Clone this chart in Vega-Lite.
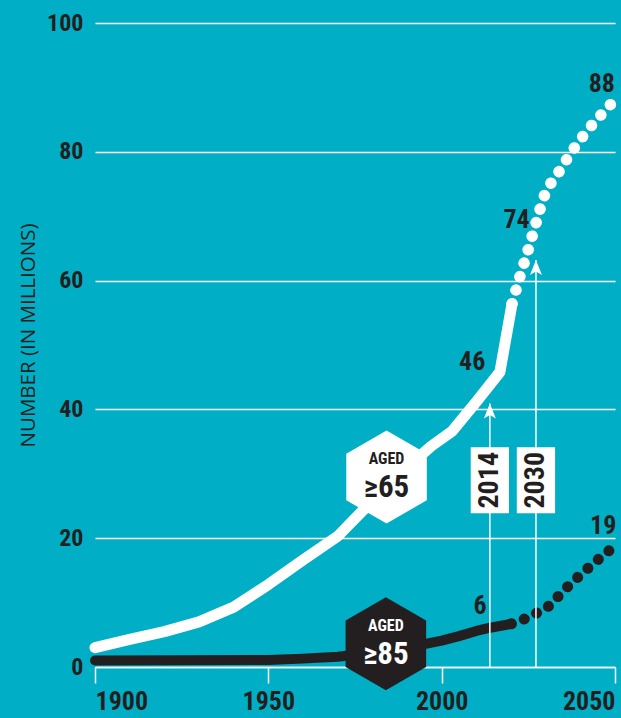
{
  "$schema": "https://vega.github.io/schema/vega-lite/v6.json",
  "width": 520,
  "height": 644,
  "autosize": "none",
  "padding": {"left": 95, "top": 23, "right": 6, "bottom": 51},
  "background": "#00AFC6",
  "config": {
    "view": {"stroke": null},
    "font": "Roboto Condensed, Noto Sans Condensed, Open Sans Condensed, Liberation Sans Narrow, Arial Narrow, Liberation Sans, sans-serif"
  },
  "datasets": {
    "population": [
      {"group": "65+", "status": "estimate", "year": 1900, "value": 3.0},
      {"group": "65+", "status": "estimate", "year": 1910, "value": 4.3},
      {"group": "65+", "status": "estimate", "year": 1920, "value": 5.5},
      {"group": "65+", "status": "estimate", "year": 1930, "value": 7.0},
      {"group": "65+", "status": "estimate", "year": 1940, "value": 9.3},
      {"group": "65+", "status": "estimate", "year": 1950, "value": 12.8},
      {"group": "65+", "status": "estimate", "year": 1960, "value": 16.6},
      {"group": "65+", "status": "estimate", "year": 1970, "value": 20.3},
      {"group": "65+", "status": "estimate", "year": 1980, "value": 25.8},
      {"group": "65+", "status": "estimate", "year": 1990, "value": 31.0},
      {"group": "65+", "status": "estimate", "year": 1997, "value": 34.3},
      {"group": "65+", "status": "estimate", "year": 2003, "value": 36.6},
      {"group": "65+", "status": "estimate", "year": 2010, "value": 41.2},
      {"group": "65+", "status": "estimate", "year": 2016.8, "value": 45.8},
      {"group": "65+", "status": "estimate", "year": 2020.3, "value": 56.4},
      {"group": "65+", "status": "projection", "year": 2020.3, "value": 56.4},
      {"group": "65+", "status": "projection", "year": 2022.5, "value": 60.5},
      {"group": "65+", "status": "projection", "year": 2024.9, "value": 64.7},
      {"group": "65+", "status": "projection", "year": 2027.2, "value": 68.9},
      {"group": "65+", "status": "projection", "year": 2029.5, "value": 73.0},
      {"group": "65+", "status": "projection", "year": 2033.6, "value": 76.7},
      {"group": "65+", "status": "projection", "year": 2038.0, "value": 80.4},
      {"group": "65+", "status": "projection", "year": 2042.8, "value": 83.8},
      {"group": "65+", "status": "projection", "year": 2048.3, "value": 87.1},
      {"group": "65+", "status": "projection", "year": 2050.3, "value": 88.3},
      {"group": "85+", "status": "estimate", "year": 1900, "value": 1.0},
      {"group": "85+", "status": "estimate", "year": 1950, "value": 1.1},
      {"group": "85+", "status": "estimate", "year": 1960, "value": 1.3},
      {"group": "85+", "status": "estimate", "year": 1970, "value": 1.6},
      {"group": "85+", "status": "estimate", "year": 1980, "value": 2.2},
      {"group": "85+", "status": "estimate", "year": 1990, "value": 3.0},
      {"group": "85+", "status": "estimate", "year": 2000, "value": 4.1},
      {"group": "85+", "status": "estimate", "year": 2005, "value": 4.8},
      {"group": "85+", "status": "estimate", "year": 2010, "value": 5.6},
      {"group": "85+", "status": "estimate", "year": 2014, "value": 6.1},
      {"group": "85+", "status": "estimate", "year": 2020.1, "value": 6.7},
      {"group": "85+", "status": "projection", "year": 2020.1, "value": 6.7},
      {"group": "85+", "status": "projection", "year": 2023.6, "value": 7.4},
      {"group": "85+", "status": "projection", "year": 2027.1, "value": 8.3},
      {"group": "85+", "status": "projection", "year": 2030.5, "value": 9.3},
      {"group": "85+", "status": "projection", "year": 2033.3, "value": 10.8},
      {"group": "85+", "status": "projection", "year": 2036.0, "value": 12.3},
      {"group": "85+", "status": "projection", "year": 2038.9, "value": 13.75},
      {"group": "85+", "status": "projection", "year": 2041.7, "value": 15.1},
      {"group": "85+", "status": "projection", "year": 2044.7, "value": 16.5},
      {"group": "85+", "status": "projection", "year": 2047.7, "value": 17.8},
      {"group": "85+", "status": "projection", "year": 2050.2, "value": 19.0}
    ],
    "markers": [
      {"year": 2013.9, "base": 0, "tip": 40.9, "boxValue": 29.0, "label": "2014"},
      {"year": 2027.2, "base": 0, "tip": 63.2, "boxValue": 29.0, "label": "2030"}
    ],
    "badges": [
      {"group": "65+", "year": 1984.1, "value": 29.5, "top": "AGED", "main": "≥65"},
      {"group": "85+", "year": 1983.9, "value": 3.6, "top": "AGED", "main": "≥85"}
    ],
    "valueLabels": [
      {"year": 2008.8, "value": 47.3, "text": "46"},
      {"year": 2021.6, "value": 69.4, "text": "74"},
      {"year": 2046.2, "value": 90.5, "text": "88"},
      {"year": 2011.1, "value": 9.4, "text": "6"},
      {"year": 2046.6, "value": 21.9, "text": "19"}
    ]
  },
  "encoding": {
    "x": {
      "field": "year", "type": "quantitative",
      "scale": {"domain": [1900, 2050], "nice": false, "zero": false},
      "axis": {
        "values": [1900, 1950, 2000, 2050],
        "format": "d",
        "title": null,
        "grid": false,
        "domainColor": "#ffffff",
        "domainWidth": 1.5,
        "tickColor": "#ffffff",
        "tickWidth": 1.5,
        "tickSize": 16,
        "labelFlush": true,
        "labelFontWeight": "bold",
        "labelFontSize": 26,
        "labelColor": "#231F20",
        "labelPadding": 5
      }
    },
    "y": {
      "field": "value", "type": "quantitative",
      "scale": {"domain": [0, 100], "nice": false},
      "axis": {
        "values": [0, 20, 40, 60, 80, 100],
        "title": "NUMBER (IN MILLIONS)",
        "titleFont": "Open Sans, sans-serif",
        "titleFontWeight": "normal",
        "titleFontSize": 20.5,
        "titleColor": "#231F20",
        "titleAngle": 270,
        "titleX": -67,
        "titleY": 312,
        "titleAlign": "center",
        "titleBaseline": "middle",
        "domain": false,
        "ticks": false,
        "grid": true,
        "gridColor": "#ffffff",
        "gridWidth": 1.5,
        "gridOpacity": 1,
        "labelFontWeight": "bold",
        "labelFontSize": 24,
        "labelColor": "#231F20",
        "labelPadding": 12
      }
    }
  },
  "layer": [
    {
      "data": {"name": "population"},
      "transform": [{"filter": "datum.group === '85+' && datum.status === 'estimate'"}],
      "mark": {"type": "line", "color": "#231F20", "strokeWidth": 10, "strokeCap": "round", "strokeJoin": "round"},
      "encoding": {}
    },
    {
      "data": {"name": "population"},
      "transform": [{"filter": "datum.group === '85+' && datum.status === 'projection'"}],
      "mark": {"type": "line", "color": "#231F20", "strokeWidth": 11, "strokeCap": "round", "strokeDash": [0.1, 13.6], "interpolate": "monotone"},
      "encoding": {}
    },
    {
      "data": {"name": "population"},
      "transform": [{"filter": "datum.group === '65+' && datum.status === 'estimate'"}],
      "mark": {"type": "line", "color": "#ffffff", "strokeWidth": 11, "strokeCap": "round", "strokeJoin": "round"},
      "encoding": {}
    },
    {
      "data": {"name": "population"},
      "transform": [{"filter": "datum.group === '65+' && datum.status === 'projection'"}],
      "mark": {"type": "line", "color": "#ffffff", "strokeWidth": 11.5, "strokeCap": "round", "strokeDash": [0.1, 14], "interpolate": "monotone"},
      "encoding": {}
    },
    {
      "data": {"name": "markers"},
      "mark": {"type": "rule", "color": "#ffffff", "strokeWidth": 1.5},
      "encoding": {
        "y": {"field": "base", "type": "quantitative"},
        "y2": {"field": "tip"}
      }
    },
    {
      "data": {"name": "markers"},
      "mark": {"type": "point", "filled": true, "color": "#ffffff", "opacity": 1, "shape": "M0,0L0.6,1.5L0,1.15L-0.6,1.5Z", "size": 400},
      "encoding": {
        "y": {"field": "tip", "type": "quantitative"}
      }
    },
    {
      "data": {"name": "markers"},
      "mark": {"type": "point", "filled": true, "color": "#ffffff", "opacity": 1, "shape": "M-0.58,-1L0.58,-1L0.58,1L-0.58,1Z", "size": 4356},
      "encoding": {
        "y": {"field": "boxValue", "type": "quantitative"}
      }
    },
    {
      "data": {"name": "markers"},
      "mark": {"type": "text", "angle": 270, "align": "center", "baseline": "middle", "fontWeight": "bold", "fontSize": 28, "color": "#231F20"},
      "encoding": {
        "y": {"field": "boxValue", "type": "quantitative"},
        "text": {"field": "label"}
      }
    },
    {
      "data": {"name": "badges"},
      "mark": {"type": "point", "filled": true, "opacity": 1, "shape": "M0,-1L0.866,-0.5L0.866,0.5L0,1L-0.866,0.5L-0.866,-0.5Z", "size": 8649},
      "encoding": {
        "color": {"field": "group", "type": "nominal", "scale": {"domain": ["65+", "85+"], "range": ["#ffffff", "#231F20"]}, "legend": null}
      }
    },
    {
      "data": {"name": "badges"},
      "mark": {"type": "text", "align": "center", "baseline": "middle", "fontWeight": "bold", "fontSize": 16, "dy": -18},
      "encoding": {
        "text": {"field": "top"},
        "color": {"condition": {"test": "datum.group === '85+'", "value": "#ffffff"}, "value": "#231F20"}
      }
    },
    {
      "data": {"name": "badges"},
      "mark": {"type": "text", "align": "center", "baseline": "middle", "fontWeight": "bold", "fontSize": 31, "dy": 11},
      "encoding": {
        "text": {"field": "main"},
        "color": {"condition": {"test": "datum.group === '85+'", "value": "#ffffff"}, "value": "#231F20"}
      }
    },
    {
      "data": {"name": "valueLabels"},
      "mark": {"type": "text", "align": "center", "baseline": "middle", "fontWeight": "bold", "fontSize": 26, "color": "#231F20"},
      "encoding": {
        "text": {"field": "text"}
      }
    }
  ]
}
